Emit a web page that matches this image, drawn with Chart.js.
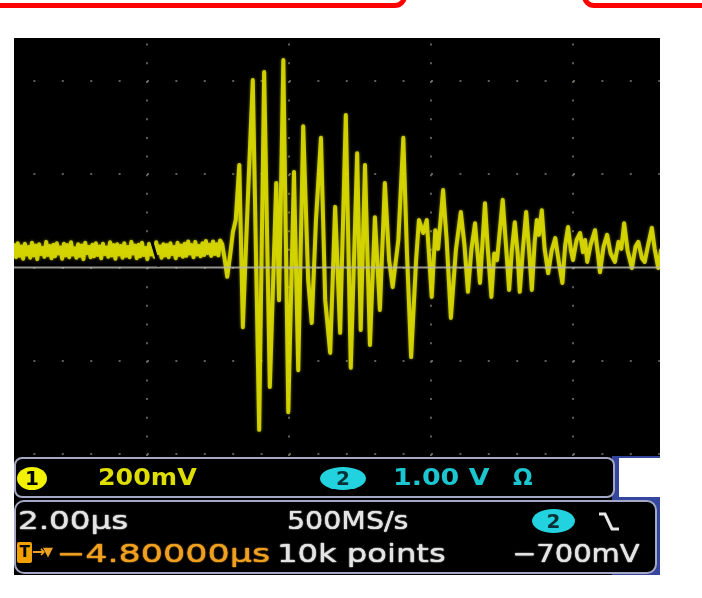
<!DOCTYPE html>
<html>
<head>
<meta charset="utf-8">
<script src="https://cdn.jsdelivr.net/npm/chart.js@4.4.0/dist/chart.umd.min.js"></script>
<style>
  html, body { margin: 0; padding: 0; background: #fff; }
  body { width: 702px; height: 598px; position: relative; overflow: hidden; font-family: "DejaVu Sans", sans-serif; }
  .abs { position: absolute; }
  .red { position: absolute; border: 5px solid #ff0000; border-radius: 12px; box-sizing: border-box; }
  .box { position: absolute; background: #000; border: 2px solid #a4a8c4; box-sizing: border-box; }
  .txt { position: absolute; white-space: nowrap; line-height: 1; font-weight: bold; transform-origin: 0 0; }
  .thin { font-weight: normal; text-shadow: 0 0 1.2px currentColor, 0 0 1px currentColor; }
  .pill { position: absolute; border-radius: 50%; text-align: center; font-weight: bold; }
</style>
</head>
<body>
<div class="red" style="left:-30px;top:-60px;width:437px;height:68px"></div>
<div class="red" style="left:582px;top:-60px;width:200px;height:68px"></div>

<div class="abs" style="left:14px;top:38px;width:646px;height:537px;background:#000"></div>
<div class="abs" style="left:14px;top:38px;width:646px;height:422px">
  <canvas id="scope" width="646" height="422"></canvas>
</div>

<!-- readout panels -->
<div class="abs" style="left:612px;top:456px;width:48px;height:119px;background:#34469e"></div>
<div class="box" style="left:14px;top:457px;width:601px;height:41px;border-radius:8px"></div>
<div class="abs" style="left:619px;top:458px;width:41px;height:39px;background:#fff"></div>
<div class="box" style="left:14px;top:500px;width:643px;height:74px;border-radius:10px"></div>

<div class="pill" style="left:17px;top:467px;width:30px;height:23px;line-height:23px;background:#f2f200;color:#000;font-size:20px">1</div>
<div class="txt" data-w="99" style="left:98px;top:466px;font-size:23px;color:#dede00">200mV</div>
<div class="pill" style="left:320px;top:467px;width:46px;height:23px;line-height:23px;background:#22d3df;color:#063238;font-size:20px">2</div>
<div class="txt" data-w="97" style="left:393px;top:466px;font-size:23px;color:#1cc6d0">1.00 V</div>
<div class="txt" data-w="20" style="left:513px;top:466px;font-size:23px;color:#1cc6d0">Ω</div>

<div class="txt thin" data-w="110" style="left:18px;top:509px;font-size:24px;color:#e4e4e4">2.00µs</div>
<div class="txt thin" data-w="121" style="left:287px;top:509px;font-size:24px;color:#e4e4e4">500MS/s</div>
<div class="pill" style="left:532px;top:509px;width:43px;height:24px;line-height:24px;background:#22d3df;color:#063238;font-size:20px">2</div>
<svg class="abs" style="left:598px;top:511px" width="22" height="22"><polyline points="1,3 7,3 14,18 21,18" fill="none" stroke="#e8e8e8" stroke-width="3"/></svg>

<div class="abs" style="left:17px;top:542px;width:15px;height:21px;line-height:21px;background:#f0a000;color:#000;font-weight:bold;font-size:15px;text-align:center;border-radius:2px">T</div>
<div class="txt" style="left:32px;top:544px;font-size:16px;color:#f0a020">→</div>
<div class="txt" style="left:43px;top:545px;font-size:13px;color:#f0a020">▼</div>
<div class="txt thin" data-w="214" style="left:56px;top:542px;font-size:24px;color:#f0a020">−4.80000µs</div>
<div class="txt thin" data-w="169" style="left:277px;top:542px;font-size:24px;color:#e4e4e4">10k points</div>
<div class="txt thin" data-w="128" style="left:512px;top:542px;font-size:24px;color:#e4e4e4">−700mV</div>

<script>
// channel 1 pre-trigger baseline, time in µs, amplitude in mV
const baseTimeUs = [
  0.130, 0.155, 0.180, 0.205, 0.230, 0.255, 0.280, 0.305, 0.330, 0.355,
  0.380, 0.405, 0.430, 0.455, 0.480, 0.505, 0.530, 0.555, 0.580, 0.605,
  0.630, 0.655, 0.680, 0.705, 0.730, 0.755, 0.780, 0.805, 0.830, 0.855,
  0.880, 0.905, 0.930, 0.955, 0.980, 1.005, 1.030, 1.055, 1.080, 1.105,
  1.130, 1.155, 1.180, 1.205, 1.230, 1.255, 1.280, 1.305, 1.330, 1.355,
  1.380, 1.405, 1.430, 1.455, 1.480, 1.505, 1.530, 1.555, 1.580, 1.605,
  1.630, 1.655, 1.680, 1.705, 1.730, 1.755, 1.780, 1.805, 1.830, 1.855,
  1.880, 1.905, 1.930, 1.955, 1.980, 2.005, 2.030, 2.055, 2.080, 2.105,
  2.130, 2.155, 2.180, 2.205, 2.230, 2.255, 2.280, 2.305, 2.330, 2.355,
  2.380, 2.405, 2.430, 2.455, 2.480, 2.505, 2.530, 2.555, 2.580, 2.605,
  2.630, 2.655, 2.680, 2.705, 2.730, 2.755, 2.780, 2.805, 2.830, 2.855,
  2.880, 2.905, 2.930, 2.955, 2.980, 3.005, 3.030
];
const baseMV = [
  48, 22, 52, 25, 45, 19, 51, 28, 44, 21,
  53, 26, 47, 18, 50, 29, 42, 23, 55, 27,
  46, 20, 49, 24, 52, 30, 43, 19, 51, 26,
  48, 22, 54, 28, 41, 21, 50, 25, 47, 18,
  53, 31, 44, 22, 49, 24, 52, 27, 45, 20,
  51, 29, 43, 23, 54, 26, 48, 19, 50, 28,
  46, 21, 52, 25, 44, 22, 55, 30, 47, 20,
  49, 24, 53, 27, 42, 18, 51, 28, 46, 23,
  54, 31, 45, 21, 50, 26, 48, 22, 52, 29,
  44, 20, 53, 27, 47, 23, 51, 25, 56, 30,
  48, 22, 55, 28, 46, 24, 52, 27, 57, 31,
  49, 25, 56, 29, 50, 26, 58
];

// channel 1 burst and ring-down (200 mV/div, 2.00 µs/div)
const burstTimeUs = [
  3.06, 3.10, 3.13, 3.17, 3.21, 3.25, 3.30, 3.35, 3.42, 3.49,
  3.58, 3.65, 3.73, 3.82, 3.86, 3.92, 3.99, 4.07, 4.13, 4.20,
  4.27, 4.32, 4.38, 4.45, 4.51, 4.58, 4.65, 4.72, 4.80, 4.87,
  4.96, 5.01, 5.07, 5.14, 5.21, 5.28, 5.35, 5.41, 5.46, 5.54,
  5.61, 5.66, 5.72, 5.79, 5.83, 5.89, 5.94, 6.01, 6.06, 6.10,
  6.17, 6.22, 6.28, 6.35, 6.42, 6.47, 6.52, 6.57, 6.62, 6.69,
  6.76, 6.80, 6.85, 6.89, 6.93, 7.01, 7.05, 7.10, 7.14, 7.18,
  7.22, 7.25, 7.30, 7.34, 7.38, 7.42, 7.46, 7.49, 7.52, 7.56,
  7.60, 7.65, 7.70, 7.75, 7.80, 7.85, 7.89, 7.93, 7.97, 8.00,
  8.05, 8.10, 8.14, 8.17, 8.20, 8.25, 8.31, 8.35, 8.38, 8.43,
  8.48, 8.53, 8.59, 8.64, 8.68, 8.72, 8.77, 8.83, 8.88, 8.92,
  8.97, 9.01, 9.06, 9.11, 9.15, 9.20, 9.24
];
const burstMV = [
  50, 12, -20, 25, 76, 102, 220, -128, 145, 402,
  -348, 419, -256, 181, -70, 445, -310, 205, -220, 303,
  -27, -119, 102, 278, -70, -183, 130, -140, 327, -215,
  245, -134, 220, -166, 108, -91, 181, 16, -42, 59,
  278, 37, -192, 16, 102, 74, 102, -63, 80, 40,
  166, 60, -108, 37, 119, 50, -52, 40, 95, -33,
  138, 40, -63, 30, 16, 145, 60, -48, 40, 97,
  30, -52, 50, 119, 40, -48, 55, 102, 70, 123,
  40, -12, 37, 63, 12, -33, 48, 87, 37, 16,
  59, 74, 33, 59, 12, 50, 80, 30, -10, 45,
  70, 30, 12, 55, 40, 95, 35, -1, 45, 55,
  20, 12, 50, 85, 40, -1, 37
];

// channel 2 reference line
const ch2TimeUs = [0, 9.3];
const ch2mV = [0, 0];

// dark notch crossing the pre-trigger baseline
const notchTimeUs = [2.03, 2.17];
const notchMV = [76, 2];

const xMinUs = 0.127, xMaxUs = 9.225, xDivUs = 2;
const yMinMV = -412.6, yMaxMV = 492, yDivMV = 200;

const toPoints = (xs, ys) => xs.map((x, i) => ({ x: x, y: ys[i] }));
const ch1Points = toPoints(baseTimeUs, baseMV).concat(toPoints(burstTimeUs, burstMV));

// soft phosphor glow on the yellow trace
const glow = {
  id: 'glow',
  beforeDatasetDraw(chart, args) {
    const ctx = chart.ctx;
    ctx.save();
    if (args.index === 2) {
      ctx.shadowColor = 'rgba(255,255,0,0.55)';
      ctx.shadowBlur = 3;
    }
  },
  afterDatasetDraw(chart) {
    chart.ctx.restore();
  }
};

new Chart(document.getElementById('scope'), {
  type: 'line',
  data: {
    datasets: [
      {
        data: toPoints(notchTimeUs, notchMV),
        borderColor: '#000', borderWidth: 3, pointRadius: 0
      },
      {
        data: toPoints(ch2TimeUs, ch2mV),
        borderColor: 'rgba(185,185,175,0.8)', borderWidth: 2, pointRadius: 0
      },
      {
        data: ch1Points,
        borderColor: 'rgba(228,228,0,0.85)', borderWidth: 4, pointRadius: 0,
        borderJoinStyle: 'round', borderCapStyle: 'round', tension: 0
      }
    ]
  },
  options: {
    responsive: false,
    animation: false,
    devicePixelRatio: 1,
    layout: { padding: 0 },
    plugins: { legend: { display: false }, tooltip: { enabled: false } },
    scales: {
      x: {
        type: 'linear', min: xMinUs, max: xMaxUs,
        ticks: { display: false, stepSize: xDivUs, includeBounds: false },
        grid: { color: 'rgba(110,110,100,0.85)', lineWidth: 2, drawTicks: false, tickLength: 0 },
        border: { display: false, dash: [2, 16.66], dashOffset: 13.08 }
      },
      y: {
        min: yMinMV, max: yMaxMV,
        ticks: { display: false, stepSize: yDivMV, includeBounds: false },
        grid: { color: 'rgba(110,110,100,0.85)', lineWidth: 2, drawTicks: false, tickLength: 0 },
        border: { display: false, dash: [2, 26.4], dashOffset: 9 }
      }
    }
  },
  plugins: [glow]
});

// stretch readout text to the widths seen on the scope
document.querySelectorAll('[data-w]').forEach(el => {
  el.style.transform = `scaleX(${el.dataset.w / el.offsetWidth})`;
});
</script>
</body>
</html>
